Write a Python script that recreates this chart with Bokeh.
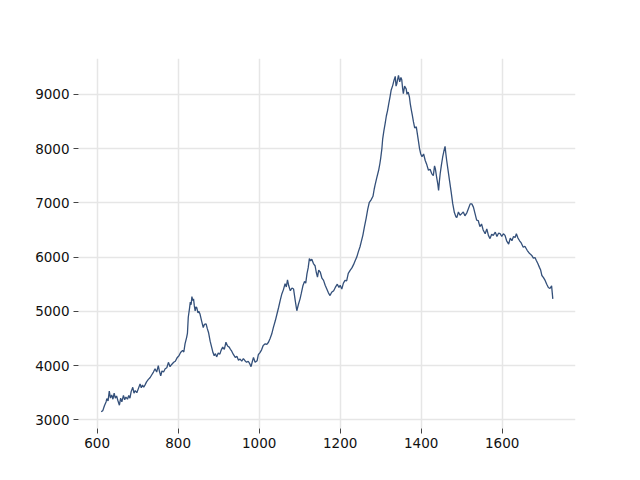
from bokeh.plotting import figure
from bokeh.models import FixedTicker, Range1d
from bokeh.embed import file_html
from bokeh.resources import INLINE

xs = [610, 614, 618, 622, 624, 627, 630, 633, 636, 639, 642, 645, 648, 651, 655, 658, 661, 665, 668, 671,
      675, 678, 681, 684, 688, 691, 694, 698, 702, 706, 709, 712, 715, 718, 722, 726, 731, 735, 739, 743,
      747, 751, 754, 757, 760, 764, 768, 772, 776, 780, 784, 789, 793, 798, 802, 806, 811, 814, 817, 821,
      823, 825, 828, 830, 832, 834, 836, 838, 840, 842, 844, 846, 849, 851, 854, 858, 862, 865, 869, 872,
      875, 879, 883, 886, 889, 892, 895, 899, 903, 906, 910, 914, 918, 922, 926, 929, 932, 936, 941, 945,
      949, 953, 957, 961, 965, 969, 973, 977, 980, 983, 986, 990, 995, 998, 1002, 1006, 1010, 1015, 1019, 1023,
      1027, 1031, 1035, 1040, 1044, 1048, 1052, 1056, 1060, 1064, 1067, 1070, 1073, 1077, 1081, 1085, 1089, 1093, 1097, 1101,
      1104, 1108, 1112, 1115, 1118, 1121, 1124, 1127, 1130, 1134, 1138, 1141, 1144, 1147, 1151, 1155, 1159, 1163, 1167, 1171,
      1175, 1179, 1184, 1188, 1193, 1197, 1200, 1204, 1208, 1212, 1216, 1220, 1225, 1229, 1233, 1237, 1241, 1245, 1249, 1252,
      1256, 1260, 1264, 1268, 1272, 1276, 1281, 1284, 1286, 1290, 1295, 1298, 1300, 1303, 1305, 1308, 1311, 1314, 1317, 1320,
      1323, 1326, 1330, 1333, 1336, 1338, 1340, 1342, 1344, 1347, 1350, 1352, 1354, 1356, 1359, 1363, 1365, 1368, 1371, 1373,
      1376, 1378, 1381, 1384, 1388, 1390, 1393, 1396, 1399, 1402, 1406, 1410, 1414, 1418, 1422, 1426, 1430, 1433, 1435, 1438,
      1441, 1443, 1445, 1447, 1450, 1453, 1456, 1459, 1461, 1463, 1466, 1470, 1474, 1478, 1482, 1486, 1488, 1492, 1496, 1500,
      1504, 1508, 1513, 1517, 1521, 1525, 1529, 1533, 1537, 1541, 1545, 1549, 1553, 1558, 1562, 1566, 1570, 1574, 1578, 1583,
      1587, 1591, 1595, 1599, 1603, 1607, 1611, 1616, 1620, 1624, 1628, 1632, 1635, 1639, 1643, 1647, 1652, 1656, 1662, 1666,
      1670, 1673, 1677, 1681, 1684, 1688, 1692, 1695, 1698, 1702, 1706, 1710, 1714, 1718, 1722, 1725]

ys = [3150, 3170, 3260, 3330, 3390, 3350, 3530, 3400, 3460, 3380, 3490, 3400, 3440, 3360, 3270, 3400, 3330, 3450, 3370, 3420,
      3380, 3450, 3400, 3520, 3600, 3490, 3540, 3500, 3580, 3660, 3590, 3640, 3600, 3640, 3700, 3740, 3780, 3830, 3880, 3940,
      3880, 4000, 3890, 3810, 3900, 3880, 3940, 3960, 4060, 3980, 4020, 4060, 4080, 4150, 4180, 4240, 4280, 4250, 4400, 4520,
      4600, 4890, 5050, 5170, 5120, 5270, 5200, 5230, 5100, 5010, 5080, 5070, 4970, 5000, 4950, 4820, 4700, 4760, 4770, 4680,
      4610, 4450, 4330, 4240, 4180, 4220, 4160, 4230, 4210, 4280, 4340, 4300, 4430, 4360, 4340, 4300, 4270, 4210, 4150, 4170,
      4100, 4120, 4080, 4130, 4090, 4060, 4080, 4030, 3980, 4070, 4150, 4060, 4090, 4200, 4240, 4290, 4370, 4400, 4390, 4430,
      4500, 4580, 4700, 4830, 4950, 5070, 5200, 5320, 5400, 5510, 5450, 5580, 5470, 5380, 5430, 5410, 5200, 5010, 5130, 5230,
      5330, 5470, 5550, 5520, 5690, 5800, 5970, 5930, 5960, 5880, 5840, 5720, 5630, 5760, 5720, 5610, 5570, 5480, 5410, 5340,
      5290, 5350, 5380, 5440, 5500, 5440, 5480, 5410, 5520, 5570, 5560, 5700, 5760, 5800, 5860, 5930, 6000, 6100, 6190, 6280,
      6400, 6560, 6710, 6880, 7010, 7050, 7120, 7250, 7320, 7450, 7600, 7720, 7820, 8000, 8180, 8330, 8460, 8600, 8700, 8830,
      8950, 9080, 9170, 9260, 9330, 9150, 9200, 9280, 9350, 9230, 9310, 9270, 9120, 9010, 9150, 9100, 9000, 9040, 8950, 8830,
      8700, 8620, 8490, 8380, 8400, 8300, 8150, 8000, 7900, 7850, 7900, 7780, 7700, 7600, 7620, 7540, 7500, 7680, 7630, 7480,
      7350, 7230, 7400, 7540, 7700, 7840, 7950, 8040, 7900, 7780, 7620, 7410, 7200, 6980, 6820, 6740, 6730, 6830, 6770, 6800,
      6830, 6760, 6820, 6900, 6980, 6980, 6920, 6800, 6680, 6670, 6560, 6610, 6500, 6430, 6520, 6400, 6340, 6420, 6400, 6460,
      6380, 6440, 6430, 6380, 6430, 6400, 6300, 6240, 6350, 6300, 6380, 6360, 6430, 6350, 6300, 6260, 6180, 6200, 6120, 6080,
      6050, 6030, 5980, 5990, 5940, 5880, 5810, 5760, 5660, 5620, 5570, 5500, 5440, 5420, 5470, 5230]

x_ticks = [600, 800, 1000, 1200, 1400, 1600]
y_ticks = [3000, 4000, 5000, 6000, 7000, 8000, 9000]

p = figure(frame_width=497, frame_height=370, min_border_left=78, min_border_top=58,
           min_border_right=49, min_border_bottom=36,
           x_range=Range1d(554, 1781), y_range=Range1d(2840, 9660),
           output_backend="svg", toolbar_location=None)

p.line(xs, ys, line_color="#34507a", line_width=1.3)

p.outline_line_color = None
p.background_fill_color = "white"
p.border_fill_color = "white"

for ax, ticks in ((p.xaxis, x_ticks), (p.yaxis, y_ticks)):
    ax.ticker = FixedTicker(ticks=ticks)
    ax.axis_line_color = None
    ax.major_tick_line_color = "#444444"
    ax.major_tick_in = 0
    ax.major_tick_out = 5
    ax.minor_tick_line_color = None
    ax.major_label_text_font = "DejaVu Sans"
    ax.major_label_text_font_size = "13.5px"
    ax.major_label_text_color = "#111111"
    ax.major_label_standoff = 4

p.xgrid.ticker = FixedTicker(ticks=x_ticks)
p.ygrid.ticker = FixedTicker(ticks=y_ticks)
p.grid.grid_line_color = "#e6e6e6"
p.grid.grid_line_width = 1.5

open("out.html", "w").write(file_html(p, INLINE))
